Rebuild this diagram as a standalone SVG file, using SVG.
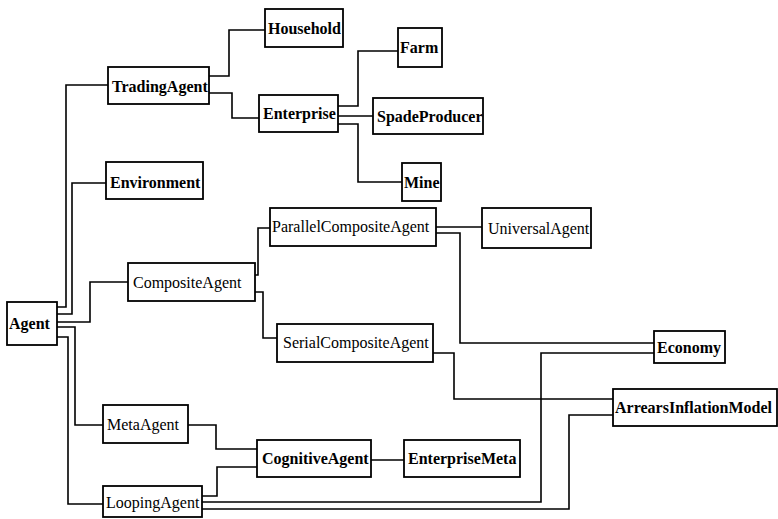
<svg xmlns="http://www.w3.org/2000/svg" width="778" height="519" viewBox="0 0 778 519">
<style>
rect{fill:#fff;stroke:#000;stroke-width:1.8}
text{font-family:"Liberation Serif","Times New Roman",serif;font-size:16px;fill:#000}
.b{font-weight:bold}
#connectors polyline{fill:none;stroke:#000;stroke-width:1.6}
</style>
<rect x="0" y="0" width="778" height="519" style="stroke:none"/>
<g id="connectors">
<polyline points="57,307 66,307 66,85 108,85"/>
<polyline points="57,314 72,314 72,183 106,183"/>
<polyline points="57,322 90,322 90,282 128,282"/>
<polyline points="57,327 75,327 75,425 103,425"/>
<polyline points="57,337 68,337 68,504 103,504"/>
<polyline points="209,76 229,76 229,30 265,30"/>
<polyline points="209,93 232,93 232,118 259,118"/>
<polyline points="338,106 358,106 358,51 398,51"/>
<polyline points="338,116 373,116"/>
<polyline points="338,124 358,124 358,182 402,182"/>
<polyline points="255,275 258,275 258,228 270,228"/>
<polyline points="255,292 263,292 263,338 277,338"/>
<polyline points="436,227 482,227"/>
<polyline points="436,233 460,233 460,343 654,343"/>
<polyline points="433,353 454,353 454,399 613,399"/>
<polyline points="202,502 541,502 541,353 654,353"/>
<polyline points="202,509 569,509 569,415 613,415"/>
<polyline points="202,496 217,496 217,467 257,467"/>
<polyline points="188,425 216,425 216,449 257,449"/>
<polyline points="371,460 404,460"/>
</g>
<g id="Agent"><rect x="7" y="302" width="50" height="43"/><text class="b" x="9" y="329">Agent</text></g>
<g id="TradingAgent"><rect x="108" y="67" width="101" height="37"/><text class="b" x="112" y="92">TradingAgent</text></g>
<g id="Environment"><rect x="106" y="162" width="97" height="37"/><text class="b" x="110" y="188">Environment</text></g>
<g id="Household"><rect x="265" y="9" width="78" height="38"/><text class="b" x="268" y="34">Household</text></g>
<g id="Farm"><rect x="398" y="28" width="44" height="39"/><text class="b" x="400" y="53">Farm</text></g>
<g id="Enterprise"><rect x="259" y="95" width="79" height="37"/><text class="b" x="263" y="119">Enterprise</text></g>
<g id="SpadeProducer"><rect x="373" y="98" width="110" height="36"/><text class="b" x="377" y="122">SpadeProducer</text></g>
<g id="Mine"><rect x="402" y="163" width="39" height="38"/><text class="b" x="404" y="188">Mine</text></g>
<g id="CompositeAgent"><rect x="128" y="263" width="127" height="38"/><text x="133" y="288">CompositeAgent</text></g>
<g id="ParallelCompositeAgent"><rect x="270" y="208" width="166" height="38"/><text x="272" y="232">ParallelCompositeAgent</text></g>
<g id="SerialCompositeAgent"><rect x="277" y="324" width="156" height="38"/><text x="283" y="348">SerialCompositeAgent</text></g>
<g id="UniversalAgent"><rect x="482" y="208" width="109" height="40"/><text x="488" y="234">UniversalAgent</text></g>
<g id="Economy"><rect x="654" y="331" width="71" height="32"/><text class="b" x="657" y="353">Economy</text></g>
<g id="ArrearsInflationModel"><rect x="613" y="389" width="164" height="37"/><text class="b" x="615" y="413">ArrearsInflationModel</text></g>
<g id="MetaAgent"><rect x="103" y="405" width="85" height="38"/><text x="107" y="430">MetaAgent</text></g>
<g id="LoopingAgent"><rect x="103" y="486" width="99" height="31"/><text x="106" y="508">LoopingAgent</text></g>
<g id="CognitiveAgent"><rect x="257" y="440" width="114" height="37"/><text class="b" x="262" y="464">CognitiveAgent</text></g>
<g id="EnterpriseMeta"><rect x="404" y="440" width="116" height="37"/><text class="b" x="408" y="464">EnterpriseMeta</text></g>
</svg>
